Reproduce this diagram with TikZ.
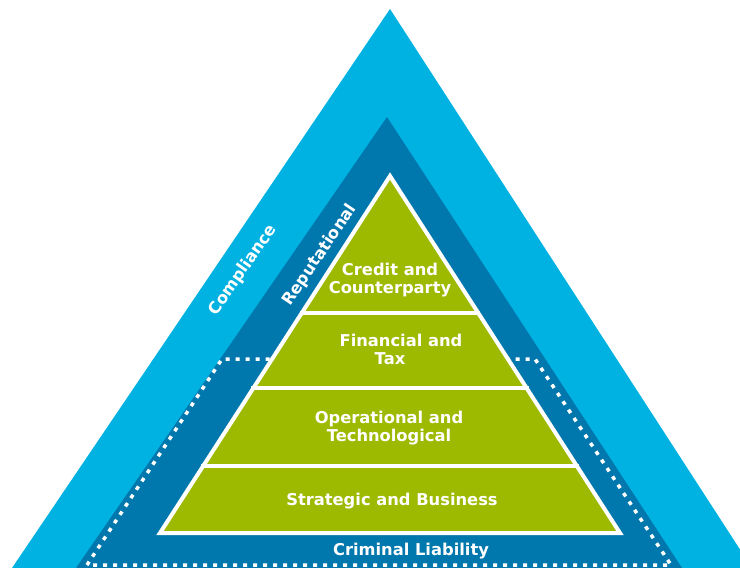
\documentclass[tikz,border=0pt]{standalone}
\usepackage{fontspec}
\setmainfont{DejaVu Sans}
\definecolor{complblue}{RGB}{0,178,226}
\definecolor{reputblue}{RGB}{0,120,174}
\definecolor{riskgreen}{RGB}{157,185,0}
\tikzset{
  tier/.style={fill=riskgreen, draw=white, line width=4pt, line join=miter},
  sepline/.style={draw=white, line width=4pt},
  dotline/.style={draw=white, line width=3.5pt, dash pattern=on 4pt off 6pt},
  lbl/.style={text=white, font=\bfseries\fontsize{16.3}{18}\selectfont, align=center, inner sep=0pt}
}

\begin{document}
\begin{tikzpicture}[x=1pt,y=-1pt]
\useasboundingbox (0,0) rectangle (740,568);
\begin{scope}
\clip (0,0) rectangle (740,568);
\fill[complblue] (390,9) -- (12,568) -- (752,568) -- cycle;
\fill[reputblue] (387,117) -- (76,568) -- (682,568) -- cycle;
\end{scope}
% criminal liability zone
\draw[dotline] (87,565) -- (222,359) -- (535,359) -- (671,565) -- cycle;
% pyramid of risks
\draw[tier] (390,176) -- (160,533) -- (620,533) -- cycle;
\foreach \y in {313,388,466}
  \draw[sepline] ({390-0.644*(\y-176)-2},\y) -- ({390+0.644*(\y-176)+2},\y);

\node[lbl] (credit) at (390,280) {Credit and\\Counterparty};
\node[lbl] (financial) at (401,349) {Financial and\\Tax\hspace*{22pt}};
\node[lbl] (operational) at (389,428) {Operational and\\Technological};
\node[lbl] (strategic) at (392,501) {Strategic and Business};
\node[lbl] (criminal) at (411,551) {Criminal Liability};
\node[lbl, rotate=55] (compliance) at (243,270) {Compliance};
\node[lbl, rotate=56] (reputational) at (320,255) {Reputational};
\end{tikzpicture}
\end{document}
